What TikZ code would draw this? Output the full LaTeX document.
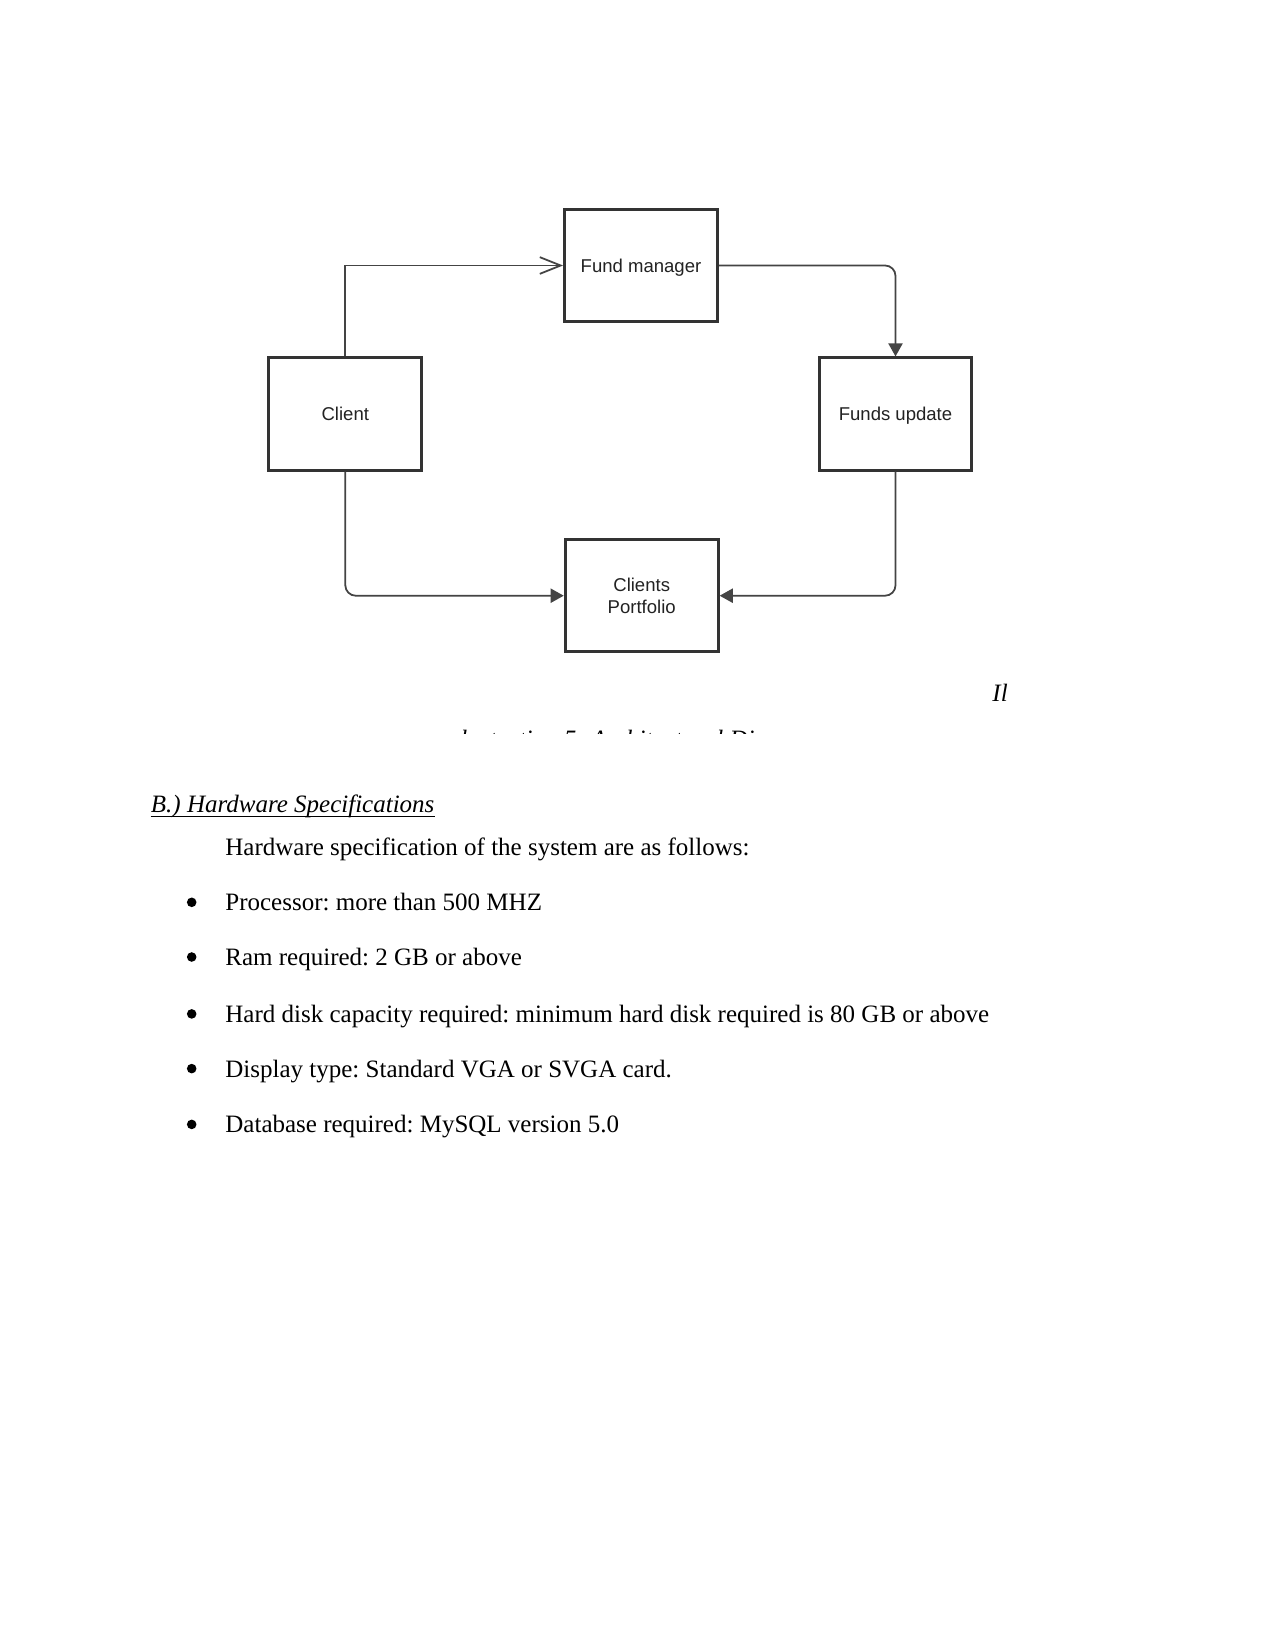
\documentclass[tikz,border=0pt]{standalone}
\usepackage{fontspec}
\setmainfont{Liberation Serif}
\newfontfamily\diagfont{Liberation Sans}
\usetikzlibrary{arrows.meta}
\frenchspacing
\definecolor{boxgray}{HTML}{333333}
\definecolor{textgray}{HTML}{222222}
\definecolor{linegray}{HTML}{444444}
\tikzset{
  blk/.style={draw=boxgray, line width=1.45pt, minimum width=73.4pt, minimum height=53.8pt,
    inner sep=0pt, align=center, text=textgray, text depth=0pt,
    font=\diagfont\fontsize{8.9}{10.4}\selectfont},
  conn/.style={draw=linegray, line width=0.85pt},
  fillarrow/.style={-{Triangle[length=6.3pt,width=6.8pt]}},
  openarrow/.style={-{Straight Barb[length=10pt,width=8pt]}},
  body/.style={anchor=base west, inner sep=0pt, font=\fontsize{12}{14}\selectfont},
  bulletdot/.style={circle, fill=black, inner sep=0pt, minimum size=4.6pt}
}
\begin{document}
\begin{tikzpicture}[x=0.48pt,y=-0.48pt]
\useasboundingbox (0,0) rectangle (1275,1651);
\fill[white] (0,0) rectangle (1275,1651);

% boxes
\node[blk] (fm) at (641,265.5) {Fund manager};
\node[blk] (cl) at (345.3,414) {Client};
\node[blk] (fu) at (895.5,414) {Funds update};
\node[blk] (cp) at (641.7,595.7) {Clients\\Portfolio};

% connectors
\draw[conn, openarrow] (cl.north) |- (fm.west);
\draw[conn, fillarrow, rounded corners=5pt] (fm.east) -| (fu.north);
\draw[conn, fillarrow, rounded corners=5pt] (cl.south) |- (cp.west);
\draw[conn, fillarrow, rounded corners=5pt] (fu.south) |- (cp.east);

% caption
\node[body, font=\itshape\fontsize{12}{14}\selectfont] (capA) at (992,701.7) {Il};
\begin{scope}
\clip (0,0) rectangle (1275,733);
\node[body, font=\itshape\fontsize{12}{14}\selectfont] (capB) at (460,747) {lustration 5: Architectural Diagram};
\end{scope}

% heading
\node[body, font=\itshape\fontsize{12}{14}\selectfont] (head) at (150.5,812.8) {B.) Hardware Specifications};
\draw[line width=0.5pt] ([yshift=-1.6pt]head.base west) -- ([yshift=-1.6pt]head.base east);

\node[body] (intro) at (225,855) {Hardware specification of the system are as follows:};

\node[body] (b1) at (225,910.7) {Processor: more than 500 MHZ};
\node[body] (b2) at (225,965.4) {Ram required: 2 GB or above};
\node[body] (b3) at (225,1022.3) {Hard disk capacity required: minimum hard disk required is 80 GB or above};
\node[body] (b4) at (225,1077) {Display type: Standard VGA or SVGA card.};
\node[body] (b5) at (225,1132.8) {Database required: MySQL version 5.0};

\node[bulletdot] (d1) at (191.7,902.3) {};
\node[bulletdot] (d2) at (191.7,957) {};
\node[bulletdot] (d3) at (191.7,1013.9) {};
\node[bulletdot] (d4) at (191.7,1068.6) {};
\node[bulletdot] (d5) at (191.7,1124.4) {};
\end{tikzpicture}
\end{document}
